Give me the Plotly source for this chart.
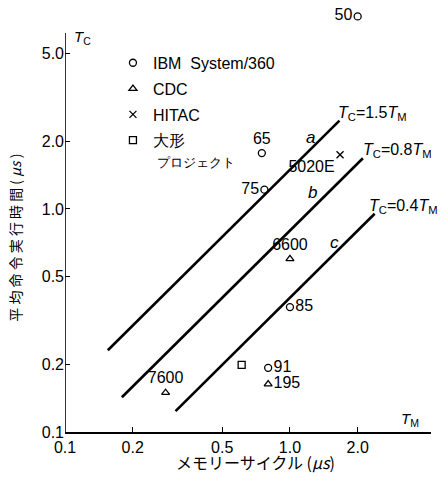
import numpy as np
import plotly.graph_objects as go

# ---- data ----
ibm_labels = ["50", "65", "75", "85", "91"]
ibm_tm = [2.0, 0.75, 0.77, 1.0, 0.80]
ibm_tc = [7.3, 1.78, 1.22, 0.363, 0.194]
ibm_pos = ["middle left", "top center", "middle left", "middle right", "middle right"]

cdc_labels = ["6600", "195", "7600"]
cdc_tm = [1.0, 0.80, 0.28]
cdc_tc = [0.597, 0.164, 0.15]
cdc_pos = ["top center", "middle right", "top center"]

hitac_labels = ["5020E"]
hitac_tm = [1.67]
hitac_tc = [1.75]
hitac_pos = ["bottom left"]

proj_tm = [0.61]
proj_tc = [0.20]

ratio_names = ["a", "b", "c"]
ratio_coef = [1.5, 0.8, 0.4]
ratio_coef_text = ["1.5", "0.8", "0.4"]
ratio_tm_start = [0.155, 0.179, 0.31]
ratio_tm_end = [1.66, 2.11, 2.38]
ratio_label_xshift = [-3, -2, -8]
ratio_letter_tm = [1.24, 1.265, 1.585]
ratio_letter_tc = [2.1, 1.18, 0.704]

x_ticks = [0.1, 0.2, 0.5, 1.0, 2.0]
x_ticktext = ["0.1", "0.2", "0.5", "1.0", "2.0"]
y_ticks = [0.1, 0.2, 0.5, 1.0, 2.0, 5.0]
y_ticktext = ["0.1", "0.2", "0.5", "1.0", "2.0", "5.0"]
y_axis_top = 6.15   # drawn extent of the vertical axis

LATIN = "Liberation Sans, Arial, sans-serif"
CJK = "Noto Sans CJK JP, Liberation Sans, sans-serif"

fig = go.Figure()

# vertical axis line (stops below the top of the plotting range)
fig.add_trace(go.Scatter(x=[x_ticks[0], x_ticks[0]], y=[y_ticks[0], y_axis_top],
                         mode="lines", line=dict(color="black", width=1.6),
                         cliponaxis=False, showlegend=False, hoverinfo="skip"))

# ratio lines
for name, k, t0, t1 in zip(ratio_names, ratio_coef, ratio_tm_start, ratio_tm_end):
    xs = [t0, t1]
    fig.add_trace(go.Scatter(x=xs, y=[k * v for v in xs], mode="lines",
                             line=dict(color="black", width=2.6),
                             showlegend=False, hoverinfo="skip"))

mk = dict(color="black", size=7, line=dict(color="black", width=1.3))
tf = dict(family=LATIN, size=16, color="black")

fig.add_trace(go.Scatter(x=ibm_tm, y=ibm_tc, mode="markers+text", name="IBM  System/360",
                         text=ibm_labels, textposition=ibm_pos, textfont=tf,
                         marker=dict(symbol="circle-open", **mk), cliponaxis=False,
                         legendgroup="g1"))
fig.add_trace(go.Scatter(x=cdc_tm, y=cdc_tc, mode="markers+text", name="CDC",
                         text=cdc_labels, textposition=cdc_pos, textfont=tf,
                         marker=dict(symbol="triangle-up-open", **mk), cliponaxis=False,
                         legendgroup="g2"))
fig.add_trace(go.Scatter(x=hitac_tm, y=hitac_tc, mode="markers+text", name="HITAC",
                         text=hitac_labels, textposition=hitac_pos, textfont=tf,
                         marker=dict(symbol="x-thin-open", **mk), cliponaxis=False,
                         legendgroup="g3"))
fig.add_trace(go.Scatter(x=proj_tm, y=proj_tc, mode="markers",
                         name="大形<br><span style='font-size:13px'> プロジェクト</span>",
                         marker=dict(symbol="square-open", **mk), cliponaxis=False,
                         legendgroup="g4"))

annotations = []
for name, k, kt, t1, xs_, lx, ly in zip(ratio_names, ratio_coef, ratio_coef_text,
                                        ratio_tm_end, ratio_label_xshift,
                                        ratio_letter_tm, ratio_letter_tc):
    annotations.append(dict(
        x=np.log10(t1), y=np.log10(k * t1), xref="x", yref="y",
        text=f"<i>T</i><sub>C</sub>={kt}<i>T</i><sub>M</sub>",
        showarrow=False, xanchor="left", yanchor="bottom", xshift=xs_, yshift=-4,
        font=dict(family=LATIN, size=16, color="black")))
    annotations.append(dict(
        x=np.log10(lx), y=np.log10(ly), xref="x", yref="y", text=f"<i>{name}</i>",
        showarrow=False, font=dict(family=LATIN, size=17, color="black")))

annotations += [
    dict(x=0.02, y=0.936, xref="paper", yref="paper", text="<i>T</i><sub>C</sub>",
         showarrow=False, xanchor="left", yanchor="middle",
         font=dict(family=LATIN, size=15, color="black")),
    dict(x=0.943, y=0.0, xref="paper", yref="paper", text="<i>T</i><sub>M</sub>",
         showarrow=False, xanchor="center", yanchor="bottom", yshift=1,
         font=dict(family=LATIN, size=15, color="black")),
    dict(x=0.52, y=-0.071, xref="paper", yref="paper",
         text="メモリーサイクル (<i>μs</i>)", showarrow=False,
         xanchor="center", yanchor="middle",
         font=dict(family=CJK, size=16, color="black")),
    dict(x=-0.137, y=0.46, xref="paper", yref="paper",
         text="平\u00a0均\u00a0命\u00a0令\u00a0実\u00a0行\u00a0時\u00a0間\u00a0(\u00a0<i>μs</i>\u00a0)",
         showarrow=False, textangle=-90,
         xanchor="center", yanchor="middle",
         font=dict(family=CJK, size=14, color="black")),
]

fig.update_layout(
    width=446, height=478,
    margin=dict(l=65, r=15, t=10, b=46),
    paper_bgcolor="white", plot_bgcolor="white",
    showlegend=True,
    legend=dict(x=0.131, y=0.915, xanchor="left", yanchor="top",
                bgcolor="rgba(0,0,0,0)", borderwidth=0, itemwidth=30,
                tracegroupgap=2, valign="top",
                font=dict(family=LATIN, size=16, color="black")),
    annotations=annotations,
    font=dict(family=LATIN, color="black"),
)
fig.update_xaxes(type="log", range=[-1, 0.627], showgrid=False, zeroline=False,
                 showline=True, linecolor="black", linewidth=1.6,
                 ticks="inside", ticklen=5, tickwidth=1.2, tickcolor="black",
                 tickvals=x_ticks, ticktext=x_ticktext,
                 tickfont=dict(family=LATIN, size=16, color="black"))
fig.update_yaxes(type="log", range=[-1, 0.892], showgrid=False, zeroline=False,
                 showline=False,
                 ticks="inside", ticklen=5, tickwidth=1.2, tickcolor="black",
                 tickvals=y_ticks, ticktext=y_ticktext,
                 tickfont=dict(family=LATIN, size=16, color="black"))

fig.write_html("out.html", config={"displayModeBar": False},
               post_script="document.body.style.margin='0px';")
